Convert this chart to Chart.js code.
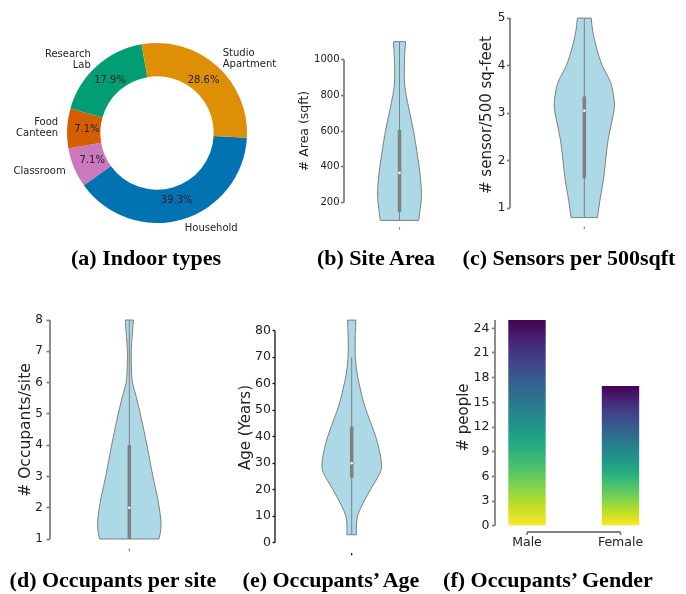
<!DOCTYPE html>
<html>
<head>
<meta charset="utf-8">
<script src="https://cdn.jsdelivr.net/npm/chart.js@4.4.1/dist/chart.umd.min.js"></script>
<style>
  html, body { margin: 0; padding: 0; background: #fff; }
  #fig { position: relative; width: 686px; height: 594px; overflow: hidden; background: #fff; }
  #fig canvas { position: absolute; left: 0; top: 0; }
  .cap { position: absolute; width: 300px; text-align: center; white-space: nowrap;
         font-family: 'Liberation Serif', 'DejaVu Serif', serif; font-weight: bold;
         font-size: 22px; line-height: 24px; color: #000; }
</style>
</head>
<body>
<div id="fig">
  <canvas id="pieTypes" width="686" height="594"></canvas>
  <canvas id="vArea" width="686" height="594"></canvas>
  <canvas id="vSensors" width="686" height="594"></canvas>
  <canvas id="vOccupants" width="686" height="594"></canvas>
  <canvas id="vAge" width="686" height="594"></canvas>
  <canvas id="barGender" width="686" height="594"></canvas>
  <div class="cap" style="left:-4px;top:246px">(a) Indoor types</div>
  <div class="cap" style="left:226px;top:246px">(b) Site Area</div>
  <div class="cap" style="left:419px;top:246px">(c) Sensors per 500sqft</div>
  <div class="cap" style="left:-37px;top:568px">(d) Occupants per site</div>
  <div class="cap" style="left:181px;top:568px">(e) Occupants’ Age</div>
  <div class="cap" style="left:398px;top:568px">(f) Occupants’ Gender</div>
</div>
<script>
// ---------------- data ----------------
// (a) indoor site types, number of sites
const siteTypes = ['Household', 'Classroom', ['Food', 'Canteen'], ['Research', 'Lab'], ['Studio', 'Apartment']];
const siteCounts = [11, 2, 2, 5, 8];

// (b) site area in sqft: violin outline levels and relative density; box = min, q1, median, q3, upper whisker
const areaLevels  = [100, 166, 222, 297, 400, 483, 596, 707, 797, 856, 931, 1024, 1100];
const areaDensity = [0.88, 0.95, 1.0, 0.99, 0.90, 0.80, 0.65, 0.46, 0.31, 0.24, 0.22, 0.24, 0.28];
const areaBox     = [100, 148, 366, 605, 1100];
const areaTicks   = [200, 400, 600, 800, 1000];

// (c) sensors per 500 sq-feet
const sensorLevels  = [0.8, 1.2, 1.61, 2.0, 2.42, 2.83, 3.1, 3.3, 3.64, 4.0, 4.39, 4.73, 5.0];
const sensorDensity = [0.44, 0.53, 0.64, 0.71, 0.79, 0.92, 1.0, 0.99, 0.88, 0.60, 0.40, 0.28, 0.23];
const sensorBox     = [0.8, 1.63, 3.05, 3.35, 5.0];
const sensorTicks   = [1, 2, 3, 4, 5];

// (d) occupants per site
const occLevels  = [1.0, 1.29, 1.61, 2.0, 2.35, 3.0, 4.0, 4.49, 5.0, 5.55, 6.0, 6.4, 7.0, 7.47, 8.0];
const occDensity = [0.94, 1.0, 1.0, 0.95, 0.89, 0.75, 0.56, 0.46, 0.35, 0.22, 0.10, 0.07, 0.06, 0.09, 0.13];
const occBox     = [1, 1, 2, 4, 8];
const occTicks   = [1, 2, 3, 4, 5, 6, 7, 8];

// (e) occupants' age in years
const ageLevels  = [3, 6.7, 10.2, 14.2, 20, 26.8, 30, 34.3, 40, 48.3, 53.4, 60, 63.3, 70, 78.4, 84];
const ageDensity = [0.16, 0.16, 0.20, 0.35, 0.63, 0.97, 1.0, 0.94, 0.81, 0.54, 0.39, 0.25, 0.19, 0.12, 0.12, 0.14];
const ageBox     = [3, 24.5, 30, 43.8, 70];
const ageTicks   = [0, 10, 20, 30, 40, 50, 60, 70, 80];

// (f) occupants' gender
const genderLabels = ['Male', 'Female'];
const genderCounts = [25, 17];
const genderTicks  = [0, 3, 6, 9, 12, 15, 18, 21, 24];

// ---------------- styles ----------------
const PAGE_H = 594, PAGE_W = 686;
const pieColors = ['#0173b2', '#cc78bc', '#d55e00', '#029e73', '#de8f05'];
// viridis, from the low (yellow) end to the high (purple) end
const viridisStops = ['#fde725', '#bddf26', '#7ad151', '#44bf70', '#22a884', '#21918c',
                      '#2a788e', '#355f8d', '#414487', '#482475', '#440154'];
const violinFill = '#add8e6', violinEdge = '#7f7f7f', boxColor = '#808080';
const textColor = '#222';

Chart.defaults.font.family = "'DejaVu Sans', sans-serif";
Chart.defaults.color = textColor;
Chart.defaults.animation = false;
Chart.defaults.plugins.legend.display = false;
Chart.defaults.plugins.tooltip.enabled = false;

// ---------------- (a) doughnut ----------------
const pieLabelPlugin = {
  id: 'pieLabels',
  afterDatasetsDraw(chart) {
    const ctx = chart.ctx;
    const meta = chart.getDatasetMeta(0);
    const values = chart.data.datasets[0].data;
    const total = values.reduce((a, b) => a + b, 0);
    ctx.save();
    ctx.font = "10px 'DejaVu Sans'";
    ctx.fillStyle = textColor;
    ctx.textBaseline = 'middle';
    meta.data.forEach((arc, i) => {
      const p = arc.getProps(['x', 'y', 'startAngle', 'endAngle', 'outerRadius'], true);
      const mid = (p.startAngle + p.endAngle) / 2;
      const c = Math.cos(mid), s = Math.sin(mid);
      ctx.textAlign = 'center';
      ctx.fillText((values[i] / total * 100).toFixed(1) + '%',
                   p.x + c * p.outerRadius * 0.78, p.y + s * p.outerRadius * 0.78);
      const label = chart.data.labels[i];
      const lines = Array.isArray(label) ? label : [label];
      const lx = p.x + c * p.outerRadius * 1.1, ly = p.y + s * p.outerRadius * 1.1;
      ctx.textAlign = c >= 0 ? 'left' : 'right';
      lines.forEach((t, k) => ctx.fillText(t, lx, ly + (k - (lines.length - 1) / 2) * 11));
    });
    ctx.restore();
  }
};

new Chart(document.getElementById('pieTypes'), {
  type: 'doughnut',
  data: { labels: siteTypes, datasets: [{ data: siteCounts, backgroundColor: pieColors, borderWidth: 0, hoverOffset: 0 }] },
  options: {
    responsive: false,
    cutout: '63%',
    rotation: 93,
    layout: { padding: { left: 67, top: 43, right: PAGE_W - 247, bottom: PAGE_H - 223 } }
  },
  plugins: [pieLabelPlugin]
});

// ---------------- shared axis decoration ----------------
// trimmed left spine between two values, optional bottom spine and small x tick marks
const axisDecor = {
  id: 'axisDecor',
  afterDraw(chart, args, o) {
    const ctx = chart.ctx, ys = chart.scales.y, xs = chart.scales.x, ca = chart.chartArea;
    ctx.save();
    ctx.strokeStyle = o.color;
    ctx.lineWidth = o.width;
    ctx.beginPath();
    ctx.moveTo(ca.left, ys.getPixelForValue(o.from));
    ctx.lineTo(ca.left, ys.getPixelForValue(o.to));
    ctx.stroke();
    if (o.xMark) {
      ctx.lineWidth = 1.2;
      ctx.beginPath();
      const px = xs.getPixelForValue(0);
      ctx.moveTo(px, o.xMark - 1.2);
      ctx.lineTo(px, o.xMark + 1.2);
      ctx.stroke();
    }
    if (o.bottomSpine) {
      const y = ca.bottom + o.bottomSpine.gap;
      const x0 = xs.getPixelForValue(o.bottomSpine.from), x1 = xs.getPixelForValue(o.bottomSpine.to);
      ctx.beginPath();
      ctx.moveTo(x0, y); ctx.lineTo(x1, y);
      ctx.moveTo(x0, y); ctx.lineTo(x0, y + 3);
      ctx.moveTo(x1, y); ctx.lineTo(x1, y + 3);
      ctx.stroke();
    }
    ctx.restore();
  }
};

// y scale geometry from two tick anchors (value, pixel) and the plot box top / bottom
function yGeometry(L) {
  const ppu = (L.lo[1] - L.hi[1]) / (L.hi[0] - L.lo[0]);
  return {
    min: L.lo[0] - (L.bottom - L.lo[1]) / ppu,
    max: L.hi[0] + (L.hi[1] - L.top) / ppu,
    axisW: L.spineX - (L.titleX - 4 - 0.6 * L.titleSize)
  };
}

function yAxis(L, g, ticks, title) {
  return {
    type: 'linear', min: g.min, max: g.max,
    afterFit: s => { s.width = g.axisW; },
    afterBuildTicks: s => { s.ticks = ticks.map(v => ({ value: v })); },
    border: { display: false },
    grid: { drawOnChartArea: false, drawTicks: true, tickLength: L.tickLen, tickColor: L.spineColor, tickWidth: L.spineWidth },
    ticks: { font: { size: L.tickSize }, color: textColor, padding: L.tickPad, callback: v => String(v) },
    title: { display: true, text: title, font: { size: L.titleSize }, color: textColor, padding: { top: 4, bottom: 4 } }
  };
}

// ---------------- (b)-(e) violins ----------------
function makeViolin(id, levels, density, box, ticks, title, L) {
  const g = yGeometry(L);
  const n = levels.length;
  const pt = (side, i) => ({ x: side * density[i], y: levels[i] });
  // outline: right side upward, across the flat top, left side downward, across the flat bottom;
  // corner points are listed twice so the smoothed curve keeps the flat ends straight
  const outline = [];
  for (let i = 0; i < n; i++) outline.push(pt(1, i));
  outline.push(pt(1, n - 1));
  outline.push(pt(-1, n - 1));
  for (let i = n - 1; i >= 0; i--) outline.push(pt(-1, i));
  outline.push(pt(-1, 0));
  outline.push(pt(1, 0));

  new Chart(document.getElementById(id), {
    type: 'line',
    data: {
      datasets: [
        { data: [{ x: 0, y: box[2] }], showLine: false, pointRadius: 1.3, pointBackgroundColor: '#fff', pointBorderWidth: 0, order: 0 },
        { data: [{ x: 0, y: box[1] }, { x: 0, y: box[3] }], borderColor: boxColor, borderWidth: L.boxWidth, borderCapStyle: 'butt', pointRadius: 0, order: 1 },
        { data: [{ x: 0, y: box[0] }, { x: 0, y: box[4] }], borderColor: boxColor, borderWidth: 1, pointRadius: 0, order: 2 },
        { data: outline, fill: 'shape', backgroundColor: violinFill, borderColor: violinEdge, borderWidth: 1,
          tension: 0.35, pointRadius: 0, order: 3 }
      ]
    },
    options: {
      responsive: false,
      layout: { padding: { left: L.spineX - g.axisW, top: L.top, right: PAGE_W - L.rightX, bottom: PAGE_H - L.bottom } },
      scales: {
        x: { type: 'linear', display: false,
             min: -(L.centerX - L.spineX) / L.peakPx, max: (L.rightX - L.centerX) / L.peakPx },
        y: yAxis(L, g, ticks, title)
      },
      plugins: { axisDecor: { color: L.spineColor, width: L.spineWidth, from: ticks[0], to: ticks[ticks.length - 1], xMark: L.markY } }
    },
    plugins: [axisDecor]
  });
}

makeViolin('vArea', areaLevels, areaDensity, areaBox, areaTicks, '# Area (sqft)', {
  spineX: 344, centerX: 399.5, rightX: 460, peakPx: 21.8,
  lo: [200, 202.5], hi: [1000, 59.5], top: 39.5, bottom: 222.5, markY: 228.5,
  titleX: 305, titleSize: 12.5, tickSize: 10, tickLen: 3, tickPad: 1.5,
  spineColor: '#808080', spineWidth: 1.8, boxWidth: 3.5
});

makeViolin('vSensors', sensorLevels, sensorDensity, sensorBox, sensorTicks, '# sensor/500 sq-feet', {
  spineX: 510, centerX: 584.3, rightX: 645, peakPx: 30,
  lo: [1, 207.7], hi: [5, 11.7], top: 2, bottom: 221.4, markY: 227.7,
  titleX: 487.5, titleSize: 15, tickSize: 12, tickLen: 3, tickPad: 1.5,
  spineColor: '#808080', spineWidth: 1.8, boxWidth: 3.5
});

makeViolin('vOccupants', occLevels, occDensity, occBox, occTicks, '# Occupants/site', {
  spineX: 50, centerX: 129.3, rightX: 200, peakPx: 31.5,
  lo: [1, 539], hi: [8, 320], top: 312, bottom: 548, markY: 550,
  titleX: 25.8, titleSize: 15.5, tickSize: 12, tickLen: 3.5, tickPad: 3.5,
  spineColor: '#808080', spineWidth: 1.8, boxWidth: 3.5
});

makeViolin('vAge', ageLevels, ageDensity, ageBox, ageTicks, 'Age (Years)', {
  spineX: 275, centerX: 351.7, rightX: 420, peakPx: 29.7,
  lo: [0, 542.7], hi: [80, 330.7], top: 302, bottom: 553, markY: 554.3,
  titleX: 246, titleSize: 15, tickSize: 12.5, tickLen: 2.5, tickPad: 1.5,
  spineColor: '#111', spineWidth: 1.3, boxWidth: 3.5
});

// ---------------- (f) gender bars ----------------
(function () {
  const L = {
    spineX: 495, rightX: 660, barStep: 93.5, firstBarX: 527,
    lo: [0, 525.7], hi: [24, 328.3], top: 309.3, bottom: 525.7,
    titleX: 464, titleSize: 15, tickSize: 12.5, tickLen: 3, tickPad: 2.5,
    spineColor: '#808080', spineWidth: 1.8, xAxisH: 30
  };
  const g = yGeometry(L);
  const yTop = genderCounts[0];

  new Chart(document.getElementById('barGender'), {
    type: 'bar',
    data: {
      datasets: [{
        data: genderCounts.map((c, i) => ({ x: i, y: c })),
        barPercentage: 0.4, categoryPercentage: 1, borderWidth: 0,
        backgroundColor(ctx) {
          const chart = ctx.chart;
          if (!chart.chartArea || ctx.type !== 'data') return viridisStops[5];
          const ys = chart.scales.y;
          const grad = chart.ctx.createLinearGradient(0, ys.getPixelForValue(0), 0, ys.getPixelForValue(ctx.parsed.y));
          viridisStops.forEach((c, k) => grad.addColorStop(k / (viridisStops.length - 1), c));
          return grad;
        }
      }]
    },
    options: {
      responsive: false,
      layout: { padding: { left: L.spineX - g.axisW, top: L.top, right: PAGE_W - L.rightX, bottom: PAGE_H - L.bottom - L.xAxisH } },
      scales: {
        x: {
          type: 'linear', offset: false,
          min: -(L.firstBarX - L.spineX) / L.barStep,
          max: (L.rightX - L.firstBarX) / L.barStep,
          afterFit: s => { s.height = L.xAxisH; },
          afterBuildTicks: s => { s.ticks = genderLabels.map((_, i) => ({ value: i })); },
          border: { display: false },
          grid: { display: false, drawTicks: false },
          ticks: { font: { size: 12.5 }, color: textColor, padding: 10, maxRotation: 0, autoSkip: false,
                   callback: (v, i) => genderLabels[i] }
        },
        y: yAxis(L, g, genderTicks, '# people')
      },
      plugins: { axisDecor: { color: L.spineColor, width: L.spineWidth, from: 0, to: yTop,
                              bottomSpine: { gap: 6.3, from: 0, to: genderLabels.length - 1 } } }
    },
    plugins: [axisDecor]
  });
})();
</script>
</body>
</html>
